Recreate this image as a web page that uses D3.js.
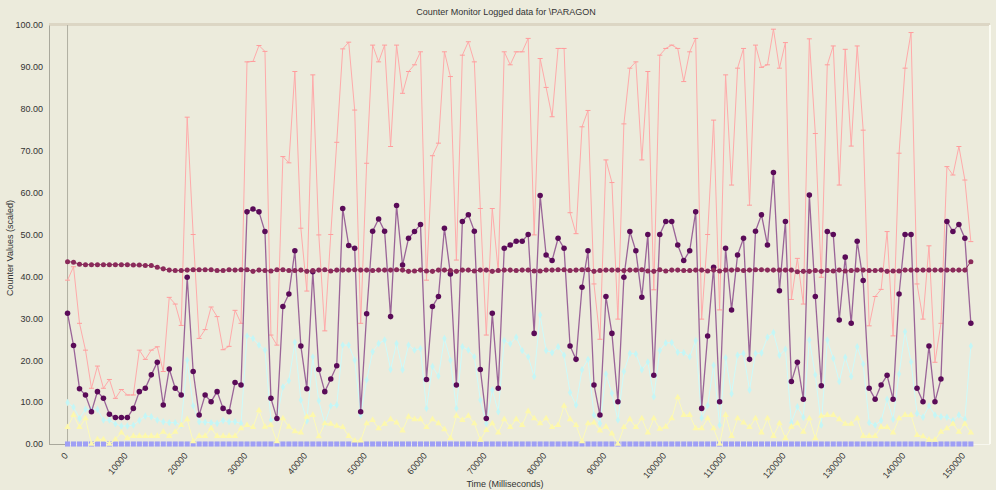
<!DOCTYPE html>
<html>
<head>
<meta charset="utf-8">
<script src="https://cdn.jsdelivr.net/npm/d3@7/dist/d3.min.js"></script>
<style>
  body { margin: 0; background: #ecebdc; }
  svg { display: block; }
  text { font-family: "Liberation Sans", Arial, sans-serif; fill: #333; }
</style>
</head>
<body>
<svg id="chart"></svg>
<script>
var w = 996;
var h = 490;

// sample interval of the logger, ms
var interval = 1000;

var xTicks = [0, 10000, 20000, 30000, 40000, 50000, 60000, 70000, 80000, 90000, 100000, 110000, 120000, 130000, 140000, 150000];
var yTicks = [0, 10, 20, 30, 40, 50, 60, 70, 80, 90, 100];

// pink counter
var pinkVals = [
  39.1, 42.3, 28.8, 22.4, 13.3, 18.6, 13.3, 15.4, 10.9, 13.0,
  11.7, 11.7, 22.4, 20.2, 22.4, 23.2, 17.3, 35.0, 33.4, 28.3,
  78.0, 50.0, 25.2, 27.3, 32.7, 30.4, 22.5, 23.3, 31.9, 28.8,
  91.2, 91.3, 95.1, 93.7, 26.0, 23.6, 68.6, 67.1, 88.9, 51.5,
  36.5, 88.1, 49.9, 27.0, 50.0, 72.0, 94.3, 95.9, 79.7, 28.8,
  67.0, 95.2, 91.2, 95.2, 71.0, 95.2, 83.7, 88.9, 90.5, 93.6,
  39.1, 68.8, 71.8, 93.6, 87.7, 43.9, 92.8, 96.0, 91.2, 56.2,
  26.0, 56.2, 41.1, 93.6, 90.5, 93.6, 93.6, 96.8, 49.9, 92.0,
  85.1, 78.1, 94.4, 94.4, 55.2, 50.2, 75.7, 79.6, 38.2, 25.0,
  67.8, 62.4, 29.8, 76.4, 89.7, 91.2, 67.8, 88.9, 36.8, 92.8,
  94.4, 95.2, 94.4, 86.5, 93.6, 96.8, 29.8, 50.0, 77.3, 32.0,
  88.1, 61.8, 89.7, 94.4, 57.0, 95.2, 89.9, 90.5, 99.0, 89.7,
  95.8, 34.5, 44.3, 33.4, 96.7, 74.1, 39.8, 90.5, 95.0, 61.8,
  94.2, 71.1, 95.0, 74.9, 28.2, 35.2, 36.9, 50.7, 25.8, 69.4,
  89.7, 98.2, 38.2, 29.8, 47.3, 19.5, 28.8, 66.2, 64.2, 71.0,
  63.0, 48.3
];

// purple counter
var purpleVals = [
  31.2, 23.5, 13.2, 11.7, 7.7, 12.5, 10.9, 7.1, 6.3, 6.3,
  6.3, 8.5, 12.5, 13.3, 16.5, 19.5, 9.3, 17.9, 13.3, 11.7,
  39.8, 17.3, 6.9, 11.7, 10.1, 12.5, 8.5, 7.7, 14.7, 14.1,
  55.4, 56.1, 55.4, 50.7, 10.9, 6.1, 32.8, 35.8, 46.1, 23.4,
  13.2, 41.1, 17.8, 12.5, 15.5, 18.7, 56.2, 47.4, 46.7, 7.7,
  31.1, 50.8, 53.7, 50.8, 30.4, 56.9, 42.7, 49.1, 50.7, 52.4,
  15.4, 32.8, 35.2, 51.5, 40.6, 14.1, 53.1, 54.7, 50.8, 17.8,
  6.1, 31.2, 13.3, 46.7, 47.5, 48.4, 48.4, 50.0, 26.4, 59.3,
  45.1, 43.8, 49.1, 46.7, 23.4, 20.2, 37.4, 46.1, 14.1, 6.9,
  35.2, 26.4, 10.1, 39.8, 50.7, 46.1, 35.0, 50.0, 16.4, 50.0,
  53.1, 53.1, 47.5, 43.8, 46.1, 55.4, 8.5, 25.8, 42.2, 10.1,
  46.7, 32.0, 45.1, 49.1, 20.2, 50.8, 54.7, 47.5, 64.8, 36.6,
  53.1, 14.9, 19.5, 10.7, 59.4, 35.2, 13.9, 50.7, 50.0, 29.6,
  44.6, 28.8, 48.4, 39.0, 13.3, 10.7, 14.1, 16.4, 10.7, 35.8,
  50.0, 50.0, 13.3, 10.1, 23.4, 10.1, 15.5, 53.1, 50.7, 52.4,
  49.1, 28.8
];

// maroon counter (almost flat)
var maroonVals = [
  43.5, 43.4, 42.9, 42.8, 42.8, 42.8, 42.8, 42.8, 42.8, 42.8,
  42.8, 42.7, 42.7, 42.6, 42.6, 42.2, 41.8, 41.5, 41.4, 41.4,
  41.5, 41.6, 41.6, 41.6, 41.6, 41.4, 41.4, 41.6, 41.5, 41.6,
  41.6, 41.2, 41.5, 41.4, 41.3, 41.6, 41.6, 41.4, 41.4, 41.5,
  41.2, 41.4, 41.5, 41.6, 41.3, 41.5, 41.5, 41.5, 41.6, 41.5,
  41.5, 41.4, 41.5, 41.5, 41.5, 41.6, 41.5, 41.2, 41.3, 41.5,
  41.3, 41.2, 41.5, 41.5, 41.4, 41.2, 41.5, 41.5, 41.3, 41.5,
  41.5, 41.2, 41.4, 41.5, 41.5, 41.4, 41.5, 41.5, 41.3, 41.3,
  41.5, 41.5, 41.6, 41.6, 41.4, 41.5, 41.6, 41.6, 41.2, 41.4,
  41.5, 41.5, 41.5, 41.4, 41.5, 41.5, 41.6, 41.3, 41.2, 41.6,
  41.3, 41.5, 41.5, 41.4, 41.4, 41.5, 41.5, 41.3, 41.5, 41.3,
  41.5, 41.5, 41.6, 41.4, 41.5, 41.6, 41.6, 41.5, 41.5, 41.5,
  41.5, 41.5, 41.1, 41.2, 41.2, 41.4, 41.2, 41.4, 41.3, 41.5,
  41.3, 41.4, 41.5, 41.5, 41.4, 41.4, 41.5, 41.2, 41.3, 41.3,
  41.5, 41.5, 41.5, 41.5, 41.5, 41.5, 41.5, 41.5, 41.5, 41.5,
  41.5, 43.5
];

// cyan counter
var cyanVals = [
  9.9, 8.8, 6.1, 8.3, 8.1, 8.3, 5.7, 5.7, 4.8, 4.3,
  4.3, 4.5, 5.6, 6.7, 6.5, 5.7, 5.3, 5.1, 5.1, 4.5,
  20.0, 9.1, 5.3, 5.2, 5.1, 4.9, 5.6, 5.3, 5.3, 4.9,
  25.8, 25.2, 23.6, 22.4, 5.7, 6.1, 13.6, 15.1, 24.3, 10.5,
  5.5, 20.8, 10.3, 4.9, 9.1, 9.3, 23.6, 23.6, 20.0, 6.9,
  15.3, 22.0, 24.0, 24.8, 17.8, 24.0, 17.7, 23.6, 22.4, 22.8,
  8.5, 18.5, 16.2, 25.2, 20.0, 8.5, 23.2, 22.4, 20.8, 10.5,
  4.9, 12.9, 7.7, 24.7, 23.9, 25.5, 22.3, 20.8, 16.1, 30.8,
  22.3, 21.8, 23.2, 21.2, 12.3, 9.3, 17.7, 20.2, 6.9, 4.9,
  16.7, 12.1, 5.7, 17.3, 21.6, 21.5, 17.7, 19.6, 11.3, 22.3,
  24.1, 24.2, 21.9, 21.8, 20.8, 24.7, 6.2, 9.2, 18.8, 4.5,
  20.6, 12.0, 21.2, 21.6, 12.9, 21.6, 21.7, 25.5, 26.6, 21.2,
  22.6, 5.1, 8.9, 6.4, 24.8, 16.5, 4.5, 24.8, 20.4, 14.9,
  20.7, 16.1, 23.2, 19.1, 5.1, 4.5, 5.6, 10.7, 5.9, 16.7,
  26.8, 19.6, 7.3, 6.4, 9.1, 6.9, 6.5, 6.4, 5.6, 6.9,
  5.9, 23.4
];

// yellow counter
var yellowVals = [
  4.0, 6.9, 4.0, 6.1, 0.0, 1.1, 1.1, 0.0, 1.1, 2.7,
  1.4, 1.9, 1.9, 1.9, 1.9, 1.9, 2.9, 1.9, 2.9, 4.5,
  5.9, 0.6, 1.9, 1.9, 3.7, 1.9, 1.9, 1.9, 1.9, 3.7,
  4.5, 4.0, 8.0, 4.1, 4.5, 0.6, 6.1, 4.1, 3.0, 2.7,
  6.5, 6.9, 1.8, 4.9, 4.8, 4.3, 4.0, 1.9, 0.8, 0.8,
  4.9, 5.7, 3.7, 4.8, 5.9, 5.1, 3.2, 6.5, 5.9, 5.9,
  4.0, 5.9, 4.9, 3.5, 1.4, 6.7, 5.7, 6.7, 4.9, 1.0,
  3.3, 4.9, 2.7, 5.9, 4.0, 5.9, 4.5, 7.8, 6.1, 4.9,
  6.1, 4.0, 4.5, 9.1, 5.9, 4.5, 0.6, 4.9, 5.1, 3.2,
  4.1, 2.5, 0.0, 4.0, 5.9, 4.0, 6.1, 2.7, 6.1, 3.6,
  4.1, 6.1, 11.1, 6.9, 6.9, 3.7, 3.7, 6.1, 3.7, 0.0,
  6.9, 1.9, 6.1, 5.1, 4.0, 6.1, 2.7, 6.1, 1.9, 4.9,
  1.4, 4.1, 4.9, 2.9, 6.1, 1.4, 6.7, 6.9, 6.9, 5.9,
  4.8, 4.8, 6.1, 1.9, 1.9, 1.9, 4.0, 4.0, 2.7, 6.1,
  6.9, 6.9, 2.1, 1.8, 1.0, 1.0, 2.9, 3.7, 4.8, 2.9,
  4.8, 2.7
];

// blue counter, stays at zero
var blueVals = [
  0, 0, 0, 0, 0, 0, 0, 0, 0, 0,  0, 0, 0, 0, 0, 0, 0, 0, 0, 0,
  0, 0, 0, 0, 0, 0, 0, 0, 0, 0,  0, 0, 0, 0, 0, 0, 0, 0, 0, 0,
  0, 0, 0, 0, 0, 0, 0, 0, 0, 0,  0, 0, 0, 0, 0, 0, 0, 0, 0, 0,
  0, 0, 0, 0, 0, 0, 0, 0, 0, 0,  0, 0, 0, 0, 0, 0, 0, 0, 0, 0,
  0, 0, 0, 0, 0, 0, 0, 0, 0, 0,  0, 0, 0, 0, 0, 0, 0, 0, 0, 0,
  0, 0, 0, 0, 0, 0, 0, 0, 0, 0,  0, 0, 0, 0, 0, 0, 0, 0, 0, 0,
  0, 0, 0, 0, 0, 0, 0, 0, 0, 0,  0, 0, 0, 0, 0, 0, 0, 0, 0, 0,
  0, 0, 0, 0, 0, 0, 0, 0, 0, 0,  0, 0
];

let svg = d3.select("#chart")
    .attr("width", w)
    .attr("height", h);

svg.append("rect")
    .attr("width", w).attr("height", h)
    .attr("fill", "#ecebdc");

let plot = { left: 49, right: 990, top: 25, bottom: 444 };

let xScale = d3.scaleLinear()
    .domain([-3100, 154200])
    .range([plot.left, plot.right]);
let yScale = d3.scaleLinear()
    .domain([0, 100])
    .range([plot.bottom, plot.top]);

// frame
svg.append("rect")
    .attr("x", plot.left).attr("y", plot.top - 2)
    .attr("width", plot.right - plot.left).attr("height", 3)
    .attr("fill", "#dcd6c4");
svg.append("line")
    .attr("x1", plot.right).attr("x2", plot.right)
    .attr("y1", plot.top).attr("y2", plot.bottom)
    .attr("stroke", "#fbfbf2").attr("stroke-width", 2);
svg.append("line")
    .attr("x1", plot.left).attr("x2", plot.right)
    .attr("y1", plot.bottom + 0.5).attr("y2", plot.bottom + 0.5)
    .attr("stroke", "#f7f7ee");

//axes
let yAxis = d3.axisLeft(yScale)
    .tickValues(yTicks)
    .tickFormat(d3.format(".2f"))
    .tickSize(0)
    .tickPadding(6);
let gy = svg.append("g")
    .attr("transform", `translate(${plot.left}, 0)`)
    .call(yAxis);
gy.select(".domain").attr("stroke", "#a9a89c");
gy.selectAll("text").style("font-size", "9px").attr("fill", "#333");

let xAxis = d3.axisBottom(xScale)
    .tickValues(xTicks)
    .tickSize(0)
    .tickFormat(d3.format("d"));
let gx = svg.append("g")
    .attr("transform", `translate(0, ${plot.bottom})`)
    .call(xAxis);
gx.select(".domain").remove();
gx.selectAll("text")
    .style("font-size", "9px")
    .attr("fill", "#333")
    .attr("text-anchor", "end")
    .attr("dy", "0.35em")
    .attr("transform", "translate(-2, 10) rotate(-50)")
    .attr("y", 0).attr("x", 0);

// left axis stub on the bottom edge, and the zero-time line
svg.append("line")
    .attr("x1", plot.left).attr("x2", xScale(0))
    .attr("y1", plot.bottom + 0.5).attr("y2", plot.bottom + 0.5)
    .attr("stroke", "#a9a89c");
svg.append("line")
    .attr("x1", xScale(0)).attr("x2", xScale(0))
    .attr("y1", plot.top).attr("y2", plot.bottom)
    .attr("stroke", "#b0afa2");

// titles
svg.append("text")
    .attr("x", 506).attr("y", 15)
    .attr("text-anchor", "middle")
    .style("font-size", "9px")
    .text("Counter Monitor Logged data for \\PARAGON");
svg.append("text")
    .attr("x", 505).attr("y", 487)
    .attr("text-anchor", "middle")
    .style("font-size", "9px")
    .text("Time (Milliseconds)");
svg.append("g")
    .attr("transform", `translate(13, 248) rotate(-90)`)
    .append("text")
    .attr("text-anchor", "middle")
    .style("font-size", "9px")
    .text("Counter Values (scaled)");

function toPoints(vals) {
    return vals.map((v, i) => ({ t: i * interval, v: v }));
}

let line = d3.line()
    .x(d => xScale(d.t))
    .y(d => yScale(d.v));

function drawSeries(vals, lineColor, lineWidth, symbol, size, fill) {
    let pts = toPoints(vals);
    let g = svg.append("g");
    if (lineColor) {
        g.append("path")
            .datum(pts)
            .attr("fill", "none")
            .attr("stroke", lineColor)
            .attr("stroke-width", lineWidth)
            .attr("d", line);
    }
    if (symbol === "bar") {
        g.selectAll("line.mk")
            .data(pts)
            .enter().append("line")
            .attr("x1", d => xScale(d.t) - size).attr("x2", d => xScale(d.t) + size)
            .attr("y1", d => yScale(d.v)).attr("y2", d => yScale(d.v))
            .attr("stroke", fill).attr("stroke-width", 1);
    } else {
        g.selectAll("path.mk")
            .data(pts)
            .enter().append("path")
            .attr("transform", d => `translate(${xScale(d.t)}, ${yScale(d.v)})`)
            .attr("d", d3.symbol().type(symbol).size(size))
            .attr("fill", fill);
    }
}

drawSeries(blueVals, null, 0, d3.symbolSquare, 26, "#9f9ff5");
drawSeries(pinkVals, "#ffaaaa", 1, "bar", 2.5, "#ff9c9c");
drawSeries(cyanVals, "#cdfbfb", 1, d3.symbolDiamond, 16, "#c4f6f6");
drawSeries(yellowVals, "#fdfbb8", 1, d3.symbolTriangle, 18, "#fdf8ac");
drawSeries(purpleVals, "#9a6498", 1.3, d3.symbolCircle, 24, "#5a0b58");
drawSeries(maroonVals, "#8e3060", 1, d3.symbolCircle, 20, "#8a2a5a");
</script>
</body>
</html>
